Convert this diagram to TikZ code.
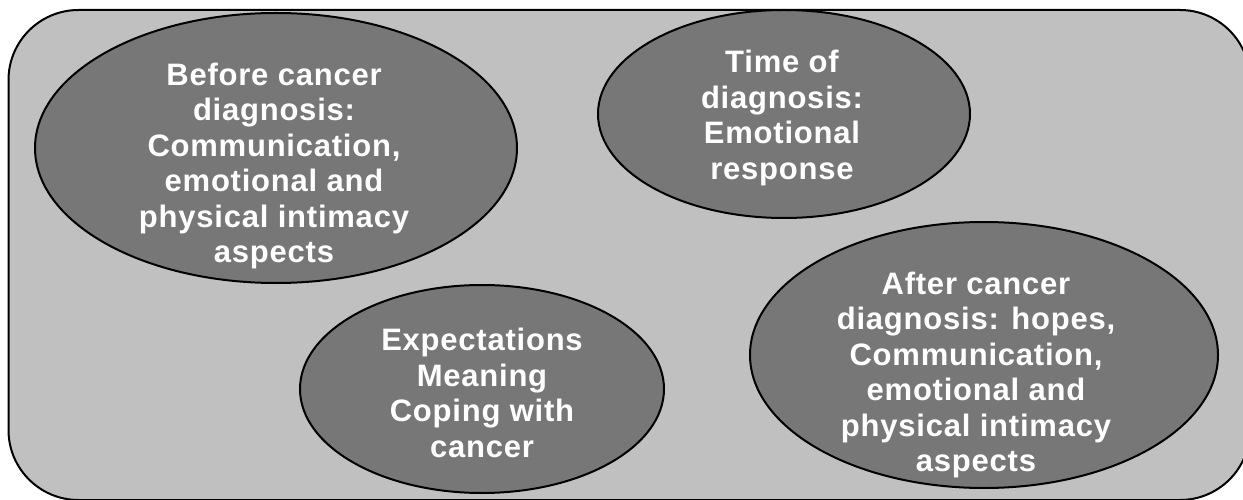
\documentclass[tikz,border=0pt]{standalone}
\usepackage{fontspec}
\setmainfont{Liberation Sans}
\newfontfamily\lblfont[LetterSpace=2.5]{Liberation Sans}
\usetikzlibrary{shapes.geometric}
\definecolor{panelgray}{RGB}{192,192,192}
\definecolor{blobgray}{RGB}{119,119,119}
\tikzset{
  panel/.style={draw=black, line width=2pt, fill=panelgray, rounded corners=70pt},
  blob/.style={ellipse, draw=black, line width=2pt, fill=blobgray, inner sep=0pt},
  lbl/.style={text=white, align=center, font=\lblfont\bfseries\fontsize{31}{35.4}\selectfont, inner sep=0pt}
}
\begin{document}
\begin{tikzpicture}[x=1pt,y=1pt]
\useasboundingbox (0,0) rectangle (1243,499);
\fill[white] (0,0) rectangle (1243,499);
\draw[panel] (8.5,-1) rectangle (1250,489);
\node[blob, minimum width=482pt, minimum height=270pt] (e1) at (276,351) {};
\node[blob, minimum width=372pt, minimum height=208pt] (e2) at (784,385) {};
\node[blob, minimum width=364pt, minimum height=208pt] (e3) at (482,110) {};
\node[blob, minimum width=468pt, minimum height=266pt] (e4) at (984,144) {};
\node[lbl] (t1) at (274,333) {Before cancer\\diagnosis:\\Communication,\\emotional and\\physical intimacy\\aspects};
\node[lbl] (t2) at (782,381) {Time of\\diagnosis:\\Emotional\\response};
\node[lbl] (t3) at (482,106) {Expectations\\Meaning\\Coping with\\cancer};
\node[lbl] (t4) at (976,124) {After cancer\\diagnosis: hopes,\\Communication,\\emotional and\\physical intimacy\\aspects};
\end{tikzpicture}
\end{document}
